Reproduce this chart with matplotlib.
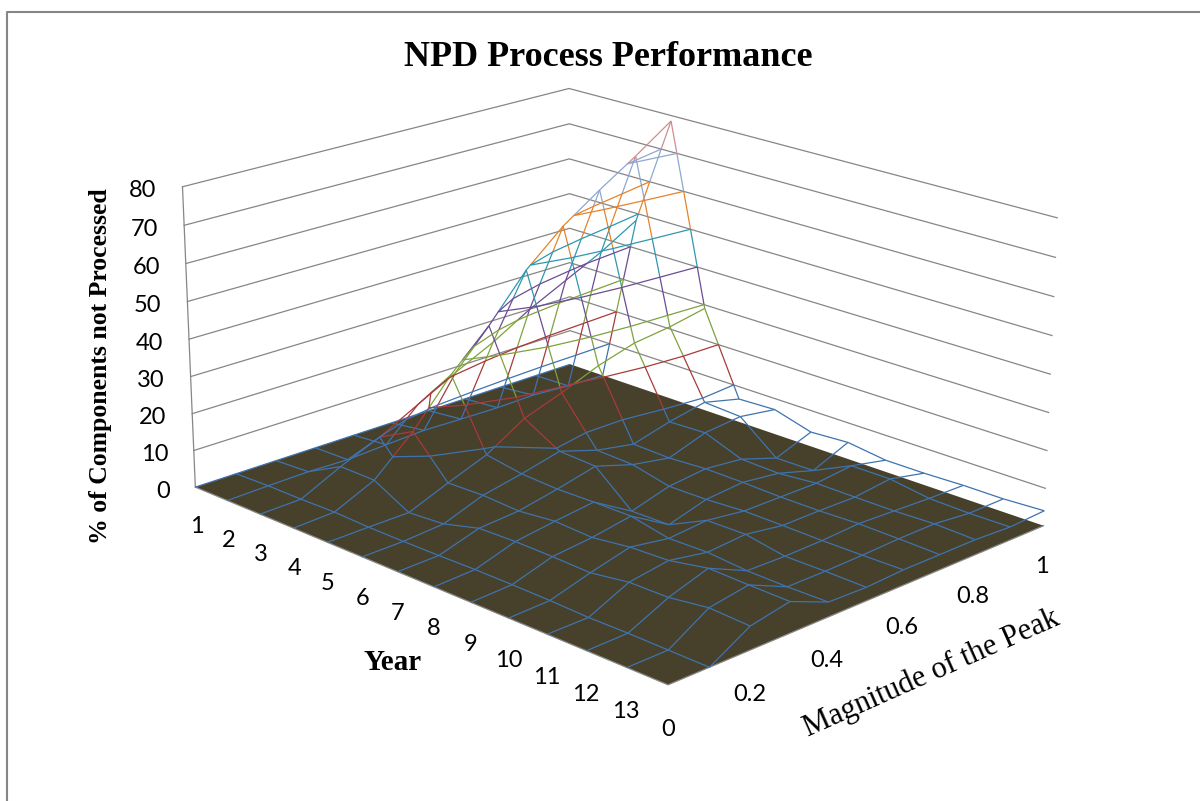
import numpy as np
import matplotlib
matplotlib.use("Agg")
import matplotlib.pyplot as plt
from matplotlib.lines import Line2D
from mpl_toolkits.mplot3d import proj3d
from mpl_toolkits.mplot3d.art3d import Line3DCollection

# values
years = np.arange(1, 15)
year_labels = [1, 2, 3, 4, 5, 6, 7, 8, 9, 10, 11, 12, 13]
magnitudes = np.array([0, 0.1, 0.2, 0.3, 0.4, 0.5, 0.6, 0.7, 0.8, 0.9, 1.0])
mag_labels = [0, 0.2, 0.4, 0.6, 0.8, 1]
z_ticks = [0, 10, 20, 30, 40, 50, 60, 70, 80]

# one row per year, one column per magnitude
y01 = [0, 0, 0, 0, 0, 0, 0, 0, 0, 0, 0]
y02 = [0, 0.3, 0.5, 0.2, 0.8, 1.3, 1, 0.8, 1, 0.3, 0]
y03 = [0, 0.3, 5.5, 10, 15.5, 21, 26, 32, 37, 42, 48]
y04 = [0, 0.5, 5.4, 15, 27, 37, 49, 58, 65, 71.5, 78.5]
y05 = [0, 0.2, 0.3, 4.6, 8.6, 15, 18.6, 22.7, 25.7, 27, 29]
y06 = [0, 0.2, 1, 4.9, 7, 9.5, 6.2, 4.3, 7, 9, 6.5]
y07 = [0, 0.3, 3.6, 4.4, 6.5, 9.0, 5.8, 4.0, 7.4, 8.4, 6.9]
y08 = [0, 0.5, 3.9, 5.4, 6.7, 0.5, 3.5, 4.6, 3.6, 0.3, 4.0]
y09 = [0, 0.5, 3.8, 4.9, 6.7, 0.6, 3.6, 4.5, 3.3, 0.4, 4.6]
y10 = [0, 0.4, 3.5, 6.2, 4.6, 5.5, 4.2, 4.2, 4.2, 5.3, 3.2]
y11 = [0, 0.1, 5, 6.6, 4.8, 5.6, 4.1, 4.2, 4.1, 5.3, 3.2]
y12 = [0, 0.2, 5.1, 8.5, 3.9, 3.7, 3.9, 4.5, 4.1, 3.7, 3.5]
y13 = [0, 0.1, 6.5, 8.2, 3.7, 3.7, 3.9, 4.3, 4.4, 3.4, 3.5]
y14 = [0, 0, 6, 8, 3.8, 3.5, 4, 4, 4, 3.5, 4]
z = np.array([y01, y02, y03, y04, y05, y06, y07, y08, y09, y10, y11, y12, y13, y14], dtype=float)

band_colors = ["#3F73AE", "#A83A3A", "#7FA23C", "#6B4C93", "#2F97B1", "#E5832D", "#8DA7D1", "#CE8E90"]
levels = np.arange(0, 90, 10)
grey = "#868686"
serif = "Liberation Serif"
sans = "Lato"


def split_edge(p, q):
    # cut one mesh edge at the band limits so each piece gets its band colour
    if p[2] == 0 and q[2] == 0 and max(p[0], q[0]) > 1:
        return []  # lies flat on the floor, the reference does not show it
    lo, hi = sorted((p[2], q[2]))
    cuts = [0.0, 1.0]
    if hi > lo:
        cuts += [(lev - p[2]) / (q[2] - p[2]) for lev in levels if lo < lev < hi]
    cuts = sorted(cuts)
    out = []
    for a, b in zip(cuts[:-1], cuts[1:]):
        s = p + a * (q - p)
        e = p + b * (q - p)
        band = min(int((s[2] + e[2]) / 2 // 10), 7)
        out.append((band, [s, e]))
    return out


def tick_label(x, y, h, s, ha):
    # place a label at its spot in the box, as plain 2D text
    px, py, _ = proj3d.proj_transform(x, y, h, ax.get_proj())
    ax.text2D(px, py, s, fontsize=17, family=sans, ha=ha, va="center", transform=ax.transData, clip_on=False)


fig = plt.figure(figsize=(12, 8.01), dpi=100)
ax = fig.add_axes([152.17 / 1200, -16.79 / 801, 898.42 / 1200, 898.42 / 801], projection="3d", computed_zorder=False)
ax.set_xlim(1, 14, view_margin=0)
ax.set_ylim(0, 1, view_margin=0)
ax.set_zlim(0, 80, view_margin=0)
ax.view_init(elev=19.392, azim=-44.759)
ax.set_proj_type("persp", focal_length=0.7174)
ax.set_box_aspect((1.2676, 1, 0.5998))
ax.set_xticks([])
ax.set_yticks([])
ax.set_zticks([])
ax.set_axis_off()

# walls
for t in z_ticks[1:]:
    ax.plot([1, 1, 14], [0, 1, 1], [t, t, t], color=grey, lw=0.9, zorder=1, clip_on=False)
ax.plot([1, 1], [0, 0], [0, 80], color=grey, lw=0.9, zorder=1, clip_on=False)

# floor
fx, fy = np.meshgrid([1, 14], [0, 1])
ax.plot_surface(fx, fy, np.zeros_like(fx, dtype=float), color="#47402A", shade=False, zorder=2, linewidth=0)
ax.plot([1, 14, 14], [0, 0, 1], [0, 0, 0], color=grey, lw=0.9, zorder=2, clip_on=False)

# mesh, coloured by band
segs = [[] for _ in band_colors]
for i, yr in enumerate(years):
    for j, m in enumerate(magnitudes):
        p = np.array([yr, m, z[i, j]])
        if i < len(years) - 1:
            for band, seg in split_edge(p, np.array([years[i + 1], m, z[i + 1, j]])):
                segs[band].append(seg)
        if j < len(magnitudes) - 1:
            for band, seg in split_edge(p, np.array([yr, magnitudes[j + 1], z[i, j + 1]])):
                segs[band].append(seg)
for band, color in enumerate(band_colors):
    ax.add_collection3d(Line3DCollection(segs[band], colors=color, linewidths=0.9, zorder=3, clip_on=False))

# band limits
M, Y = np.meshgrid(magnitudes, years)
ax.contour(Y, M, z, levels=levels[1:8], colors=band_colors[:7], linewidths=0.9, zorder=3)

# tick labels
for yr in year_labels:
    tick_label(yr - 0.02, 0, -11, str(yr), "center")
for m in mag_labels:
    tick_label(14, m, -11, str(m), "center")
for t in z_ticks:
    tick_label(0.72, -0.04, t - 0.7, str(t), "right")

fig.text(608 / 1200, 1 - 58 / 801, "NPD Process Performance", fontsize=26, family=serif, weight="bold", ha="center", va="center")
fig.text(101 / 1200, 1 - 366 / 801, "% of Components not Processed", fontsize=18.5, family=serif, weight="bold", rotation=90, ha="center", va="center")
fig.text(393 / 1200, 1 - 662 / 801, "Year", fontsize=21, family=serif, weight="bold", ha="center", va="center")
fig.text(931 / 1200, 1 - 673 / 801, "Magnitude of the Peak", fontsize=22, family=serif, rotation=24, rotation_mode="anchor", ha="center", va="center")

# chart border: only the left and top sides are in the picture
fig.add_artist(Line2D([7 / 1200, 7 / 1200, 1], [0, 1 - 11.5 / 801, 1 - 11.5 / 801], color=grey, lw=1.5))

fig.savefig("out.png", dpi=100)
